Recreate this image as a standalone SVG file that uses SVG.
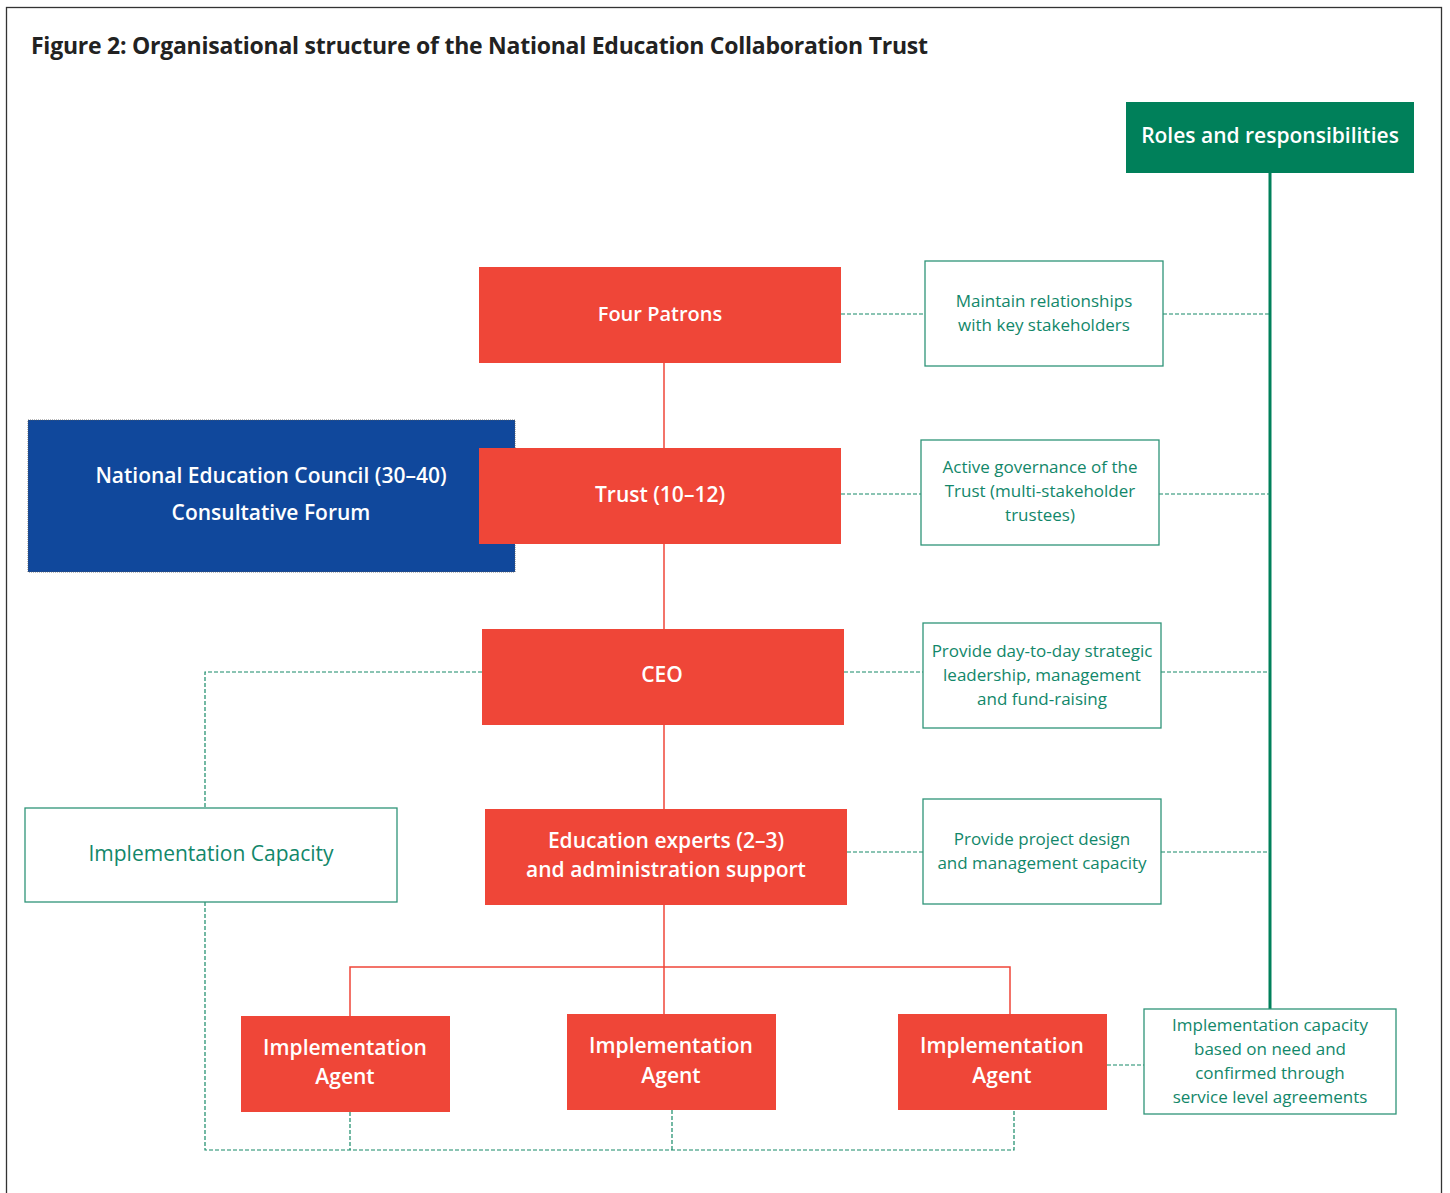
<svg xmlns="http://www.w3.org/2000/svg" width="1450" height="1193" viewBox="0 0 1450 1193">
<style>
.red{fill:#EF4638}
.wt{fill:#fff;font-family:"Open Sans","Noto Sans",sans-serif;font-weight:600;text-anchor:middle}
.gt{fill:#12876A;font-family:"Open Sans","Noto Sans",sans-serif;text-anchor:middle;font-size:17px}
.gbox{fill:#fff;stroke:#2E9478;stroke-width:1.3}
.dash{fill:none;stroke:#178A68;stroke-width:1.2;stroke-dasharray:4 2}
.rl{fill:none;stroke:#EF4638;stroke-width:1.5}
</style>
<rect x="0" y="0" width="1450" height="1193" fill="#fff"/>
<rect x="6.5" y="7.5" width="1435" height="1200" fill="none" stroke="#333" stroke-width="1.3"/>
<text x="31" y="54" font-family="Open Sans, Noto Sans, sans-serif" font-weight="700" font-size="23" fill="#222" textLength="897">Figure 2: Organisational structure of the National Education Collaboration Trust</text>
<g id="connectors">
<line x1="1270" y1="173" x2="1270" y2="1009" stroke="#00805A" stroke-width="3"/>
<polyline class="rl" points="664,363 664,1014"/>
<polyline class="rl" points="350,1016 350,967 1010,967 1010,1014"/>
<polyline class="dash" points="482,672 205,672 205,808"/>
<polyline class="dash" points="205,902 205,1150 1014,1150 1014,1110"/>
<line class="dash" x1="350" y1="1112" x2="350" y2="1150"/>
<line class="dash" x1="672" y1="1110" x2="672" y2="1150"/>
<line class="dash" x1="841" y1="314" x2="925" y2="314"/>
<line class="dash" x1="1163" y1="314" x2="1270" y2="314"/>
<line class="dash" x1="841" y1="494" x2="921" y2="494"/>
<line class="dash" x1="1159" y1="494" x2="1270" y2="494"/>
<line class="dash" x1="844" y1="672" x2="923" y2="672"/>
<line class="dash" x1="1161" y1="672" x2="1270" y2="672"/>
<line class="dash" x1="847" y1="852" x2="923" y2="852"/>
<line class="dash" x1="1161" y1="852" x2="1270" y2="852"/>
<line class="dash" x1="1107" y1="1065" x2="1144" y2="1065"/>
</g>
<g id="roles">
<rect x="1126" y="102" width="288" height="71" fill="#00805A"/>
<text class="wt" x="1270" y="143" font-size="21">Roles and responsibilities</text>
</g>
<g id="nec">
<rect x="28" y="420" width="487" height="152" fill="#10489C" stroke="#555" stroke-width="0.8" stroke-dasharray="1 1"/>
<text class="wt" x="271" y="483" font-size="21">National Education Council (30–40)</text>
<text class="wt" x="271" y="520" font-size="21">Consultative Forum</text>
</g>
<g id="patrons">
<rect class="red" x="479" y="267" width="362" height="96"/>
<text class="wt" x="660" y="321" font-size="20">Four Patrons</text>
</g>
<g id="trust">
<rect class="red" x="479" y="448" width="362" height="96"/>
<text class="wt" x="660" y="502" font-size="21">Trust (10–12)</text>
</g>
<g id="ceo">
<rect class="red" x="482" y="629" width="362" height="96"/>
<text class="wt" x="662" y="682" font-size="21">CEO</text>
</g>
<g id="experts">
<rect class="red" x="485" y="809" width="362" height="96"/>
<text class="wt" x="666" y="848" font-size="21">Education experts (2–3)</text>
<text class="wt" x="666" y="877" font-size="21">and administration support</text>
</g>
<g id="agent1">
<rect class="red" x="241" y="1016" width="209" height="96"/>
<text class="wt" x="345" y="1055" font-size="21">Implementation</text>
<text class="wt" x="345" y="1084" font-size="21">Agent</text>
</g>
<g id="agent2">
<rect class="red" x="567" y="1014" width="209" height="96"/>
<text class="wt" x="671" y="1053" font-size="21">Implementation</text>
<text class="wt" x="671" y="1083" font-size="21">Agent</text>
</g>
<g id="agent3">
<rect class="red" x="898" y="1014" width="209" height="96"/>
<text class="wt" x="1002" y="1053" font-size="21">Implementation</text>
<text class="wt" x="1002" y="1083" font-size="21">Agent</text>
</g>
<g id="capacity">
<rect class="gbox" x="25" y="808" width="372" height="94"/>
<text class="gt" x="211" y="861" style="font-size:21px">Implementation Capacity</text>
</g>
<g id="role1">
<rect class="gbox" x="925" y="261" width="238" height="105"/>
<text class="gt" x="1044" y="307">Maintain relationships</text>
<text class="gt" x="1044" y="331">with key stakeholders</text>
</g>
<g id="role2">
<rect class="gbox" x="921" y="440" width="238" height="105"/>
<text class="gt" x="1040" y="473">Active governance of the</text>
<text class="gt" x="1040" y="497">Trust (multi-stakeholder</text>
<text class="gt" x="1040" y="521">trustees)</text>
</g>
<g id="role3">
<rect class="gbox" x="923" y="623" width="238" height="105"/>
<text class="gt" x="1042" y="657">Provide day-to-day strategic</text>
<text class="gt" x="1042" y="681">leadership, management</text>
<text class="gt" x="1042" y="705">and fund-raising</text>
</g>
<g id="role4">
<rect class="gbox" x="923" y="799" width="238" height="105"/>
<text class="gt" x="1042" y="845">Provide project design</text>
<text class="gt" x="1042" y="869">and management capacity</text>
</g>
<g id="role5">
<rect class="gbox" x="1144" y="1009" width="252" height="105"/>
<text class="gt" x="1270" y="1031">Implementation capacity</text>
<text class="gt" x="1270" y="1055">based on need and</text>
<text class="gt" x="1270" y="1079">confirmed through</text>
<text class="gt" x="1270" y="1103">service level agreements</text>
</g>
</svg>
